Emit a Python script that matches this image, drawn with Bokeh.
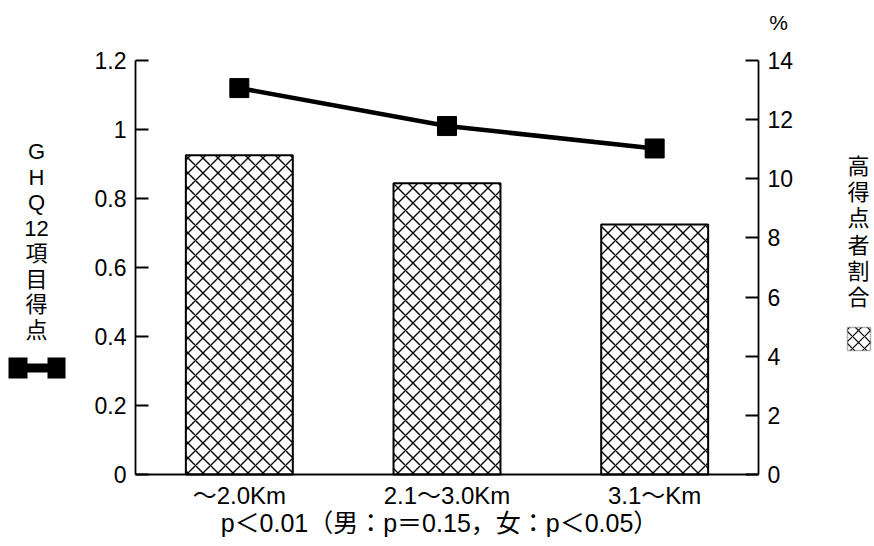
from bokeh.plotting import figure
from bokeh.models import Range1d, LinearAxis, Label, BoxAnnotation, FixedTicker
from bokeh.embed import file_html
from bokeh.resources import INLINE

# ---- data ----
categories = ["〜2.0Km", "2.1〜3.0Km", "3.1〜Km"]
ghq_score = [1.12, 1.01, 0.945]           # left axis (GHQ12 score), line
high_ratio = [10.8, 9.85, 8.45]           # right axis (%), bars
left_ticks = [0, 0.2, 0.4, 0.6, 0.8, 1.0, 1.2]
right_ticks = [0, 2, 4, 6, 8, 10, 12, 14]
left_title_chars = ["G", "H", "Q", "12", "項", "目", "得", "点"]
right_title_chars = ["高", "得", "点", "者", "割", "合"]
footnote = "p＜0.01（男：p＝0.15，女：p＜0.05）"

FONT = "Liberation Sans, Noto Sans CJK JP"
W, H = 872, 540
AX_L, AX_R, AX_T, AX_B = 135, 758, 60, 474   # axis box in canvas px
PX_PER_CAT = (AX_R - AX_L) / len(categories)
PX_PER_L = (AX_B - AX_T) / 1.2
PX_PER_R = (AX_B - AX_T) / 14.0

xs = [i + 0.5 for i in range(len(categories))]

p = figure(width=W, height=H,
           x_range=Range1d(-AX_L / PX_PER_CAT, len(categories) + (W - AX_R) / PX_PER_CAT),
           y_range=Range1d(-(H - AX_B) / PX_PER_L, 1.2 + AX_T / PX_PER_L),
           output_backend="svg", toolbar_location=None,
           min_border_left=0, min_border_right=0, min_border_top=0, min_border_bottom=0)
p.extra_y_ranges = {"right": Range1d(-(H - AX_B) / PX_PER_R, 14 + AX_T / PX_PER_R)}
p.outline_line_color = None
p.xgrid.grid_line_color = None
p.ygrid.grid_line_color = None
p.background_fill_color = "white"
p.border_fill_color = "white"

p.vbar(x=xs, top=high_ratio, width=0.515, y_range_name="right",
       fill_color="white", line_color="black", line_width=2,
       hatch_pattern="diagonal_cross", hatch_color="black", hatch_scale=15, hatch_weight=1.4)
p.line(xs, ghq_score, line_color="black", line_width=4.5)
p.scatter(xs, ghq_score, marker="square", size=19, fill_color="black", line_color="black")

def style_axis(ax, ticks):
    ax.ticker = FixedTicker(ticks=ticks)
    ax.major_tick_in = 13
    ax.major_tick_out = 0
    ax.minor_tick_line_color = None
    ax.axis_line_width = 1.8
    ax.major_tick_line_width = 1.8
    ax.major_label_text_font = FONT
    ax.major_label_text_font_size = "23px"
    ax.major_label_text_color = "black"
    ax.major_label_standoff = 9

yl = p.yaxis[0]
style_axis(yl, left_ticks)
yl.major_label_overrides = {0: "0", 1.0: "1"}
yl.fixed_location = 0
yl.bounds = (0, 1.2)

yr = LinearAxis(y_range_name="right", fixed_location=len(categories), bounds=(0, 14))
style_axis(yr, right_ticks)
p.add_layout(yr, "right")

xa = p.xaxis[0]
xa.ticker = FixedTicker(ticks=xs)
xa.major_label_overrides = {x: c for x, c in zip(xs, categories)}
xa.fixed_location = 0
xa.bounds = (0, len(categories))
xa.major_tick_line_color = None
xa.minor_tick_line_color = None
xa.axis_line_width = 1.8
xa.major_label_text_font = FONT
xa.major_label_text_font_size = "24px"
xa.major_label_text_color = "black"
xa.major_label_standoff = 1

# canvas px -> data coords (for annotation placement)
def dx(px):
    return (px - AX_L) / PX_PER_CAT

def dy(py):
    return (AX_B - py) / PX_PER_L

def add_text(x, y, t, size):
    p.add_layout(Label(x=dx(x), y=dy(y), text=t, text_align="center", text_baseline="middle",
                       text_font=FONT, text_font_size=size, text_color="black"))

for i, ch in enumerate(left_title_chars):
    add_text(36, 151 + i * 25.5, ch, "22px")
for i, ch in enumerate(right_title_chars):
    add_text(858, 166 + i * 26.2, ch, "22px")

add_text(778, 22, "%", "21px")
add_text(439, 522, footnote, "25px")

# legend symbols
p.add_layout(BoxAnnotation(left=dx(9), right=dx(64), bottom=dy(372), top=dy(363),
                           fill_color="black", fill_alpha=1, line_color=None))
for a, b in [(8, 27), (47, 65)]:
    p.add_layout(BoxAnnotation(left=dx(a), right=dx(b), bottom=dy(378), top=dy(357),
                               fill_color="black", fill_alpha=1, line_color=None))
p.add_layout(BoxAnnotation(left=dx(847), right=dx(870), bottom=dy(350), top=dy(327),
                           fill_color="white", fill_alpha=1, line_color="black", line_width=1.5,
                           hatch_pattern="diagonal_cross", hatch_color="black", hatch_scale=12,
                           hatch_weight=1.2))

open("out.html", "w").write(file_html(p, INLINE))
